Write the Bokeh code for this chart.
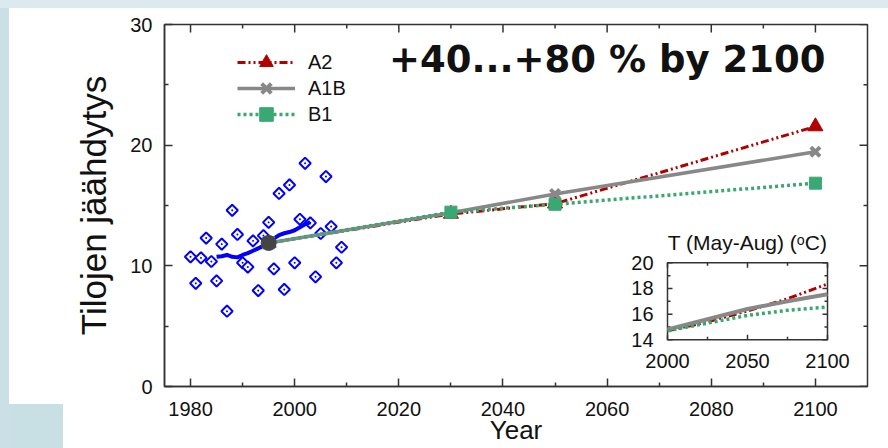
import numpy as np
from bokeh.plotting import figure
from bokeh.models import Range1d, FixedTicker, Label, Legend, LegendItem
from bokeh.core.properties import value
from bokeh.embed import file_html
from bokeh.resources import INLINE

# ---------------- data ----------------
obs_years = list(range(1980, 2010))
obs_values = [10.75, 8.55, 10.66, 12.3, 10.36, 8.75, 11.8, 6.24, 14.6, 12.6,
              10.25, 9.9, 12.07, 7.95, 12.5, 13.6, 9.75, 16.0, 8.04, 16.7,
              10.25, 13.86, 18.5, 13.56, 9.09, 12.68, 17.4, 13.26, 10.25, 11.54]

mean_years = list(range(1985, 2004))
mean_values = [10.75, 10.8, 10.9, 10.75, 10.7, 10.9, 11.05, 11.25, 11.45, 11.65,
               11.95, 12.25, 12.55, 12.7, 12.8, 12.95, 13.2, 13.45, 13.6]

ref_year = [1995]
ref_value = [11.9]

scen_years = [1995, 2030, 2050, 2100]
a2_values = [11.9, 14.3, 15.15, 21.55]
a1b_values = [11.9, 14.4, 15.95, 19.45]
b1_values = [11.9, 14.45, 15.1, 16.85]

inset_years = [2000, 2025, 2050, 2075, 2100]
inset_a2 = [14.7, 15.4, 16.25, 17.2, 18.35]
inset_a1b = [14.8, 15.6, 16.4, 17.0, 17.55]
inset_b1 = [14.7, 15.3, 15.9, 16.3, 16.55]

x_major = [1980, 2000, 2020, 2040, 2060, 2080, 2100]
x_minor = [1990, 2010, 2030, 2050, 2070, 2090]
y_major = [0, 10, 20, 30]
y_minor = [5, 15, 25]

inset_x_major = [2000, 2050, 2100]
inset_x_minor = [2025, 2075]
inset_y_major = [14, 16, 18, 20]
inset_y_minor = [15, 17, 19]

series_labels = ["A2", "A1B", "B1"]
title_text = "+40...+80 % by 2100"
ylabel_text = "Tilojen jäähdytys"
xlabel_text = "Year"
inset_title = "T (May-Aug) (ᵒC)"

# ---------------- styles ----------------
RED = "#b00000"
GRAY = "#888888"
GREEN = "#3aa872"
BLUE = "#0000ff"
AX = "#333333"
FONT = "Liberation Sans"

x0, x1 = 1975, 2110
y0, y1 = 0, 30
FW, FH = 703, 362          # frame size in pixels

p = figure(width=888, height=448, x_range=Range1d(x0, x1), y_range=Range1d(y0, y1),
           output_backend="svg", toolbar_location=None,
           min_border_left=164, min_border_right=21, min_border_top=24, min_border_bottom=62)
p.background_fill_color = "white"
p.border_fill_alpha = 0
p.styles = {
    "background-color": "white",
    "background-image": ("linear-gradient(#dce9ef,#dce9ef), linear-gradient(#cbe0e6,#cbe0e6), "
                         "linear-gradient(#c8dfe4,#c8dfe4)"),
    "background-size": "100% 8px, 9px 100%, 63px 44px",
    "background-position": "left top, left top, left bottom",
    "background-repeat": "no-repeat",
}
p.outline_line_color = AX
p.outline_line_width = 1.5
p.xgrid.visible = False
p.ygrid.visible = False


def style_axis(ax, major, minor):
    ax.ticker = FixedTicker(ticks=major, minor_ticks=minor)
    ax.major_tick_in = 8
    ax.major_tick_out = 0
    ax.minor_tick_in = 4
    ax.minor_tick_out = 0
    ax.axis_line_color = AX
    ax.axis_line_width = 1.5
    ax.major_tick_line_color = AX
    ax.minor_tick_line_color = AX
    ax.major_tick_line_width = 1.5
    ax.minor_tick_line_width = 1.5
    ax.major_label_text_font = FONT
    ax.major_label_text_color = "#111111"
    ax.major_label_text_font_size = "20px"
    ax.axis_label_text_font = FONT
    ax.axis_label_text_font_style = "normal"
    ax.axis_label_text_color = "#111111"


style_axis(p.xaxis[0], x_major, x_minor)
style_axis(p.yaxis[0], y_major, y_minor)
p.xaxis[0].major_label_standoff = 15
p.xaxis[0].axis_label = xlabel_text
p.xaxis[0].axis_label_text_font_size = "26px"
p.xaxis[0].axis_label_standoff = -4
p.yaxis[0].major_label_standoff = 12
p.yaxis[0].axis_label = ylabel_text
p.yaxis[0].axis_label_text_font_size = "35px"
p.yaxis[0].axis_label_standoff = 14

# mirrored inward ticks on top and right edges
ux = (x1 - x0) / FW   # data units per pixel
uy = (y1 - y0) / FH
for ticks, ln in ((x_major, 8), (x_minor, 4)):
    p.segment(x0=ticks, x1=ticks, y0=[y1] * len(ticks), y1=[y1 - ln * uy] * len(ticks),
              line_color=AX, line_width=1.5)
for ticks, ln in ((y_major, 8), (y_minor, 4)):
    p.segment(x0=[x1] * len(ticks), x1=[x1 - ln * ux] * len(ticks), y0=ticks, y1=ticks,
              line_color=AX, line_width=1.5)

# observations
p.scatter(obs_years, obs_values, marker="square_dot", angle=np.pi / 4, size=8,
          line_color=BLUE, line_width=2, fill_color="white")
p.line(mean_years, mean_values, line_color=BLUE, line_width=4)

# scenarios
r_a2l = p.line(scen_years, a2_values, line_color=RED, line_width=3, line_dash="8 3 2 3 2 3")
r_a2m = p.scatter(scen_years, a2_values, marker="triangle", size=15, fill_color=RED, line_color=RED)
r_a1l = p.line(scen_years, a1b_values, line_color=GRAY, line_width=3.5)
r_a1m = p.scatter(scen_years, a1b_values, marker="x", size=13, line_color=GRAY, line_width=4)
r_b1l = p.line(scen_years, b1_values, line_color=GREEN, line_width=3.5, line_dash="3 3")
r_b1m = p.scatter(scen_years, b1_values, marker="square", size=12, fill_color=GREEN, line_color=GREEN)

p.scatter(ref_year, ref_value, marker="circle", size=15, fill_color="#444444", line_color="#444444")

# one single-row legend per scenario, stacked 26 px apart
legend_rows = [(series_labels[0], [r_a2l, r_a2m]),
               (series_labels[1], [r_a1l, r_a1m]),
               (series_labels[2], [r_b1l, r_b1m])]
for i, (lab, rends) in enumerate(legend_rows):
    lg = Legend(items=[LegendItem(label=lab, renderers=rends)],
                location=(73, 307 - 26 * i), padding=0, margin=0, spacing=0,
                glyph_width=58, glyph_height=34, label_height=34, label_standoff=13,
                label_text_font=FONT, label_text_font_size="20px",
                label_text_color="#111111", border_line_color=None,
                background_fill_alpha=0)
    p.add_layout(lg)

# big annotation
p.add_layout(Label(x=2018.1, y=27.1, text=title_text, text_font="DejaVu Sans",
                   text_font_style="bold", text_font_size="37px", text_color="#111111",
                   text_baseline="alphabetic"))

# ---------------- inset (drawn through its own ranges) ----------------
fx0, fx1 = 503.0 / FW, 663.0 / FW
fy0, fy1 = 46.7 / FH, 123.7 / FH
ixa, ixb = inset_x_major[0], inset_x_major[-1]
iya, iyb = inset_y_major[0], inset_y_major[-1]
xspan = (ixb - ixa) / (fx1 - fx0)
yspan = (iyb - iya) / (fy1 - fy0)
p.extra_x_ranges = {"ix": Range1d(ixa - fx0 * xspan, ixa - fx0 * xspan + xspan)}
p.extra_y_ranges = {"iy": Range1d(iya - fy0 * yspan, iya - fy0 * yspan + yspan)}
kw = dict(x_range_name="ix", y_range_name="iy")

p.quad(left=[ixa], right=[ixb], bottom=[iya], top=[iyb], fill_color="white",
       line_color=AX, line_width=1.5, **kw)

px_x = xspan / FW   # inset units per pixel
px_y = yspan / FH
for ticks, ln in ((inset_x_major, 5), (inset_x_minor, 3)):
    p.segment(x0=ticks, x1=ticks, y0=[iya] * len(ticks), y1=[iya + ln * px_y] * len(ticks),
              line_color=AX, line_width=1.5, **kw)
    p.segment(x0=ticks, x1=ticks, y0=[iyb] * len(ticks), y1=[iyb - ln * px_y] * len(ticks),
              line_color=AX, line_width=1.5, **kw)
for ticks, ln in ((inset_y_major, 5), (inset_y_minor, 3)):
    p.segment(x0=[ixa] * len(ticks), x1=[ixa + ln * px_x] * len(ticks), y0=ticks, y1=ticks,
              line_color=AX, line_width=1.5, **kw)
    p.segment(x0=[ixb] * len(ticks), x1=[ixb - ln * px_x] * len(ticks), y0=ticks, y1=ticks,
              line_color=AX, line_width=1.5, **kw)

p.line(inset_years, inset_a2, line_color=RED, line_width=3, line_dash="8 3 2 3 2 3", **kw)
p.line(inset_years, inset_a1b, line_color=GRAY, line_width=4, **kw)
p.line(inset_years, inset_b1, line_color=GREEN, line_width=3.5, line_dash="3 3", **kw)

p.text(x=inset_x_major, y=[iya] * len(inset_x_major), text=[str(v) for v in inset_x_major],
       text_font=value(FONT), text_font_size="20px", text_color="#111111",
       text_align="center", text_baseline="top", y_offset=14, **kw)
p.text(x=[ixa] * len(inset_y_major), y=inset_y_major, text=[str(v) for v in inset_y_major],
       text_font=value(FONT), text_font_size="20px", text_color="#111111",
       text_align="right", text_baseline="middle", x_offset=-14, **kw)
p.text(x=[(ixa + ixb) / 2], y=[iyb], text=[inset_title],
       text_font=value(FONT), text_font_size="21px", text_color="#111111",
       text_align="center", text_baseline="alphabetic", y_offset=-20, **kw)

open("out.html", "w").write(file_html(p, INLINE))
